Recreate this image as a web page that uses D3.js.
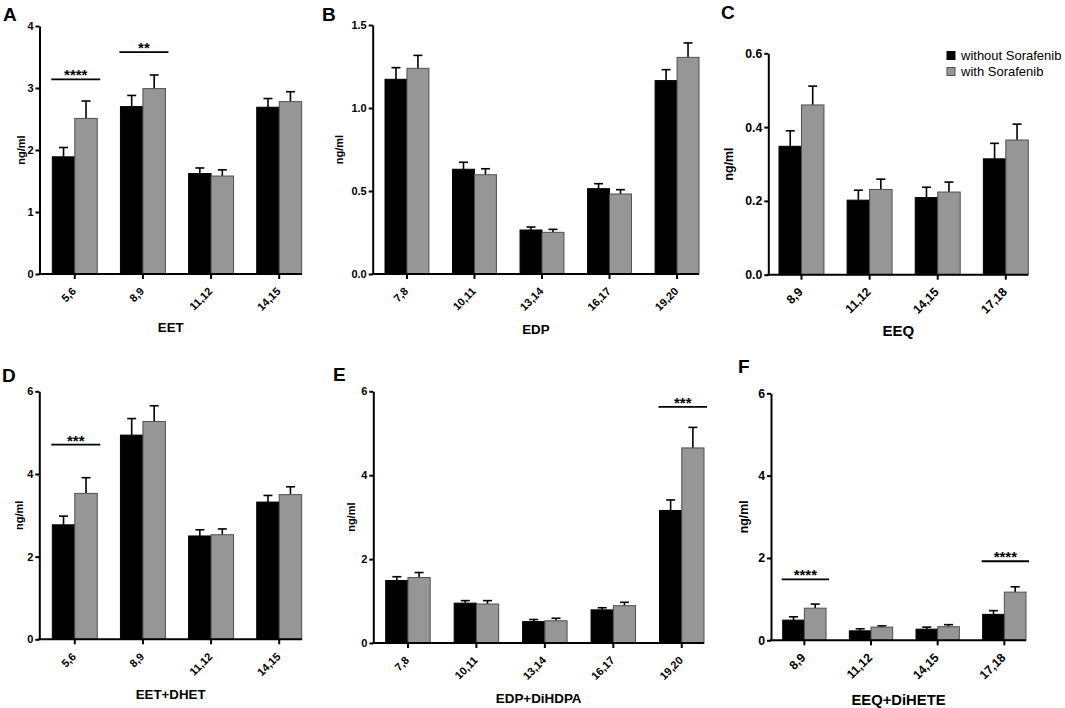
<!DOCTYPE html>
<html>
<head>
<meta charset="utf-8">
<script src="https://cdn.jsdelivr.net/npm/d3@7/dist/d3.min.js"></script>
<style>
	html, body { margin: 0; padding: 0; background: #fff; }
	svg { display: block; font-family: "Liberation Sans", Arial, sans-serif; }
</style>
</head>
<body>
<svg id="fig" width="1065" height="708"></svg>
<script>
'use strict';

// --- Data (ng/ml, mean and SEM) ---
var eetCats        = ['5,6', '8,9', '11,12', '14,15'];
var eetWithout     = [1.89, 2.70, 1.62, 2.69];
var eetWithoutErr  = [0.15, 0.18, 0.09, 0.14];
var eetWith        = [2.51, 2.99, 1.58, 2.78];
var eetWithErr     = [0.28, 0.22, 0.10, 0.16];

var edpCats        = ['7,8', '10,11', '13,14', '16,17', '19,20'];
var edpWithout     = [1.173, 0.631, 0.265, 0.514, 1.165];
var edpWithoutErr  = [0.070, 0.042, 0.018, 0.030, 0.066];
var edpWith        = [1.239, 0.598, 0.251, 0.482, 1.305];
var edpWithErr     = [0.078, 0.036, 0.018, 0.026, 0.087];

var eeqCats        = ['8,9', '11,12', '14,15', '17,18'];
var eeqWithout     = [0.348, 0.202, 0.209, 0.314];
var eeqWithoutErr  = [0.042, 0.027, 0.028, 0.042];
var eeqWith        = [0.460, 0.231, 0.224, 0.365];
var eeqWithErr     = [0.051, 0.028, 0.027, 0.043];

var dhetCats       = ['5,6', '8,9', '11,12', '14,15'];
var dhetWithout    = [2.77, 4.94, 2.50, 3.32];
var dhetWithoutErr = [0.21, 0.40, 0.15, 0.16];
var dhetWith       = [3.53, 5.27, 2.53, 3.50];
var dhetWithErr    = [0.38, 0.38, 0.14, 0.19];

var dhdpaCats       = ['7,8', '10,11', '13,14', '16,17', '19,20'];
var dhdpaWithout    = [1.49, 0.95, 0.51, 0.79, 3.16];
var dhdpaWithoutErr = [0.09, 0.06, 0.05, 0.05, 0.25];
var dhdpaWith       = [1.56, 0.93, 0.53, 0.89, 4.65];
var dhdpaWithErr    = [0.12, 0.08, 0.06, 0.08, 0.49];

var dheteCats       = ['8,9', '11,12', '14,15', '17,18'];
var dheteWithout    = [0.49, 0.23, 0.27, 0.63];
var dheteWithoutErr = [0.08, 0.05, 0.05, 0.09];
var dheteWith       = [0.78, 0.32, 0.33, 1.17];
var dheteWithErr    = [0.10, 0.03, 0.05, 0.13];

// significance brackets: [category, level (data units), stars]
var eetSig   = [['5,6', 3.14, '****'], ['8,9', 3.58, '**']];
var dhetSig  = [['5,6', 4.71, '***']];
var dhdpaSig = [['19,20', 5.63, '***']];
var dheteSig = [['8,9', 1.48, '****'], ['17,18', 1.92, '****']];

var seriesNames = ['without Sorafenib', 'with Sorafenib'];

// --- Styles ---
var BLACK      = '#000000';
var GREY_FILL  = '#969696';
var GREY_EDGE  = '#505050';
var AXIS_W     = 2;
var CAP_W      = 9;

var svg = d3.select('#fig');

/** Draw one bar panel. Layout in pixels, everything else from the data. */
function drawPanel(p) {
	var g = svg.append('g');

	var y = d3.scaleLinear()
		.domain([0, p.yMax])
		.range([p.yBottom, p.yTop]);

	var x = d3.scaleBand()
		.domain(p.cats)
		.range([p.bandStart, p.bandEnd])
		.paddingInner(p.gap)
		.paddingOuter(0);

	var xs = d3.scaleBand()
		.domain([0, 1])
		.range([0, x.bandwidth()]);

	var rows = p.cats.map(function (c, i) {
		return [
			{ cat: c, s: 0, v: p.without[i], e: p.withoutErr[i] },
			{ cat: c, s: 1, v: p.withS[i],   e: p.withErr[i] }
		];
	});
	var flat = [].concat.apply([], rows);

	// error bars first (upwards only), bars drawn over the lower half
	var err = g.append('g').attr('stroke', BLACK).attr('stroke-width', 1.6).attr('fill', 'none');
	flat.forEach(function (d) {
		var cx = x(d.cat) + xs(d.s) + xs.bandwidth() / 2;
		err.append('line')
			.attr('x1', cx).attr('x2', cx)
			.attr('y1', y(d.v)).attr('y2', y(d.v + d.e));
		err.append('line')
			.attr('x1', cx - CAP_W / 2).attr('x2', cx + CAP_W / 2)
			.attr('y1', y(d.v + d.e)).attr('y2', y(d.v + d.e));
	});

	g.append('g').selectAll('rect')
		.data(flat)
		.enter()
		.append('rect')
		.attr('x', function (d) { return x(d.cat) + xs(d.s); })
		.attr('y', function (d) { return y(d.v); })
		.attr('width', xs.bandwidth())
		.attr('height', function (d) { return y(0) - y(d.v); })
		.attr('fill', function (d) { return d.s ? GREY_FILL : BLACK; })
		.attr('stroke', function (d) { return d.s ? GREY_EDGE : BLACK; })
		.attr('stroke-width', 1);

	// y axis
	var ya = g.append('g')
		.attr('transform', 'translate(' + p.x0 + ',0)')
		.call(d3.axisLeft(y).tickValues(p.yTicks).tickFormat(d3.format(p.fmt))
			.tickSize(4).tickSizeOuter(0).tickPadding(2));
	ya.select('.domain').attr('stroke-width', AXIS_W);
	ya.selectAll('.tick line').attr('stroke-width', AXIS_W);
	ya.selectAll('.tick text')
		.attr('font-size', p.tickFont)
		.attr('font-weight', 'bold')
		.attr('fill', BLACK);

	// x axis: line across the full width, ticks at group centres
	g.append('line')
		.attr('x1', p.x0 - 1).attr('x2', p.x1)
		.attr('y1', p.yBottom).attr('y2', p.yBottom)
		.attr('stroke', BLACK).attr('stroke-width', AXIS_W);
	var xa = g.append('g')
		.attr('transform', 'translate(0,' + p.yBottom + ')')
		.call(d3.axisBottom(x).tickSize(5).tickSizeOuter(0));
	xa.select('.domain').remove();
	xa.selectAll('.tick line').attr('stroke-width', AXIS_W);
	xa.selectAll('.tick text')
		.attr('y', 0).attr('dy', null)
		.attr('transform', 'translate(2,18) rotate(-45)')
		.attr('text-anchor', 'end')
		.attr('font-size', p.tickFont)
		.attr('font-weight', 'bold')
		.attr('fill', BLACK);

	// axis titles
	g.append('text')
		.attr('x', (p.x0 + p.x1) / 2)
		.attr('y', p.titleY)
		.attr('text-anchor', 'middle')
		.attr('font-size', p.titleFont)
		.attr('font-weight', 'bold')
		.text(p.title);
	g.append('text')
		.attr('transform', 'translate(' + (p.x0 - p.yTitleOff) + ',' + ((p.yTop + p.yBottom) / 2) + ') rotate(-90)')
		.attr('text-anchor', 'middle')
		.attr('font-size', p.tickFont)
		.attr('font-weight', 'bold')
		.text('ng/ml');

	// panel letter
	g.append('text')
		.attr('x', p.letterX).attr('y', p.letterY)
		.attr('font-size', 19)
		.attr('font-weight', 'bold')
		.text(p.letter);

	// significance brackets
	(p.sig || []).forEach(function (s) {
		var ly = y(s[1]);
		var gx = x(s[0]);
		g.append('line')
			.attr('x1', gx - 1).attr('x2', gx + x.bandwidth() + 3)
			.attr('y1', ly).attr('y2', ly)
			.attr('stroke', BLACK).attr('stroke-width', 1.8);
		g.append('text')
			.attr('x', gx + x.bandwidth() / 2 + 1)
			.attr('y', ly + 1)
			.attr('text-anchor', 'middle')
			.attr('font-size', 15)
			.attr('font-weight', 'bold')
			.text(s[2]);
	});

	return g;
}

drawPanel({
	letter: 'A', letterX: 3, letterY: 21, title: 'EET',
	cats: eetCats, without: eetWithout, withoutErr: eetWithoutErr, withS: eetWith, withErr: eetWithErr,
	yMax: 4, yTicks: [0, 1, 2, 3, 4], fmt: 'd',
	x0: 39.5, x1: 302, bandStart: 52.3, bandEnd: 301.7, gap: 0.34,
	yBottom: 274, yTop: 26, titleY: 332, tickFont: 11, titleFont: 13.3, yTitleOff: 14.5,
	sig: eetSig
});

drawPanel({
	letter: 'B', letterX: 322, letterY: 21, title: 'EDP',
	cats: edpCats, without: edpWithout, withoutErr: edpWithoutErr, withS: edpWith, withErr: edpWithErr,
	yMax: 1.5, yTicks: [0, 0.5, 1.0, 1.5], fmt: '.1f',
	x0: 372.7, x1: 699, bandStart: 385, bandEnd: 699, gap: 0.35,
	yBottom: 274, yTop: 25, titleY: 334, tickFont: 11, titleFont: 13.3, yTitleOff: 30,
	sig: []
});

var gC = drawPanel({
	letter: 'C', letterX: 721, letterY: 19, title: 'EEQ',
	cats: eeqCats, without: eeqWithout, withoutErr: eeqWithoutErr, withS: eeqWith, withErr: eeqWithErr,
	yMax: 0.6, yTicks: [0, 0.2, 0.4, 0.6], fmt: '.1f',
	x0: 768.3, x1: 1028.3, bandStart: 779, bandEnd: 1028.3, gap: 0.34,
	yBottom: 274.7, yTop: 53.3, titleY: 336, tickFont: 12.3, titleFont: 15, yTitleOff: 35,
	sig: []
});

drawPanel({
	letter: 'D', letterX: 2, letterY: 382, title: 'EET+DHET',
	cats: dhetCats, without: dhetWithout, withoutErr: dhetWithoutErr, withS: dhetWith, withErr: dhetWithErr,
	yMax: 6, yTicks: [0, 2, 4, 6], fmt: 'd',
	x0: 39.3, x1: 302, bandStart: 52.3, bandEnd: 301.7, gap: 0.34,
	yBottom: 639.3, yTop: 391.3, titleY: 699, tickFont: 11, titleFont: 13.3, yTitleOff: 16,
	sig: dhetSig
});

drawPanel({
	letter: 'E', letterX: 333, letterY: 381, title: 'EDP+DiHDPA',
	cats: dhdpaCats, without: dhdpaWithout, withoutErr: dhdpaWithoutErr, withS: dhdpaWith, withErr: dhdpaWithErr,
	yMax: 6, yTicks: [0, 2, 4, 6], fmt: 'd',
	x0: 373.3, x1: 704, bandStart: 385.7, bandEnd: 704, gap: 0.35,
	yBottom: 643, yTop: 391.3, titleY: 703, tickFont: 11, titleFont: 13.4, yTitleOff: 18,
	sig: dhdpaSig
});

drawPanel({
	letter: 'F', letterX: 738, letterY: 373, title: 'EEQ+DiHETE',
	cats: dheteCats, without: dheteWithout, withoutErr: dheteWithoutErr, withS: dheteWith, withErr: dheteWithErr,
	yMax: 6, yTicks: [0, 2, 4, 6], fmt: 'd',
	x0: 771, x1: 1026, bandStart: 782.7, bandEnd: 1026, gap: 0.35,
	yBottom: 640.3, yTop: 393.3, titleY: 705, tickFont: 12.3, titleFont: 14.8, yTitleOff: 23,
	sig: dheteSig
});

// legend (sits in panel C)
var legend = gC.append('g').attr('transform', 'translate(947,51.5)');
seriesNames.forEach(function (name, i) {
	var row = legend.append('g').attr('transform', 'translate(0,' + (i * 16) + ')');
	row.append('rect')
		.attr('width', 8).attr('height', 8)
		.attr('fill', i ? GREY_FILL : BLACK)
		.attr('stroke', i ? GREY_EDGE : BLACK)
		.attr('stroke-width', 1);
	row.append('text')
		.attr('x', 14).attr('y', 4)
		.attr('dominant-baseline', 'central')
		.attr('font-size', 13)
		.text(name);
});
</script>
</body>
</html>
